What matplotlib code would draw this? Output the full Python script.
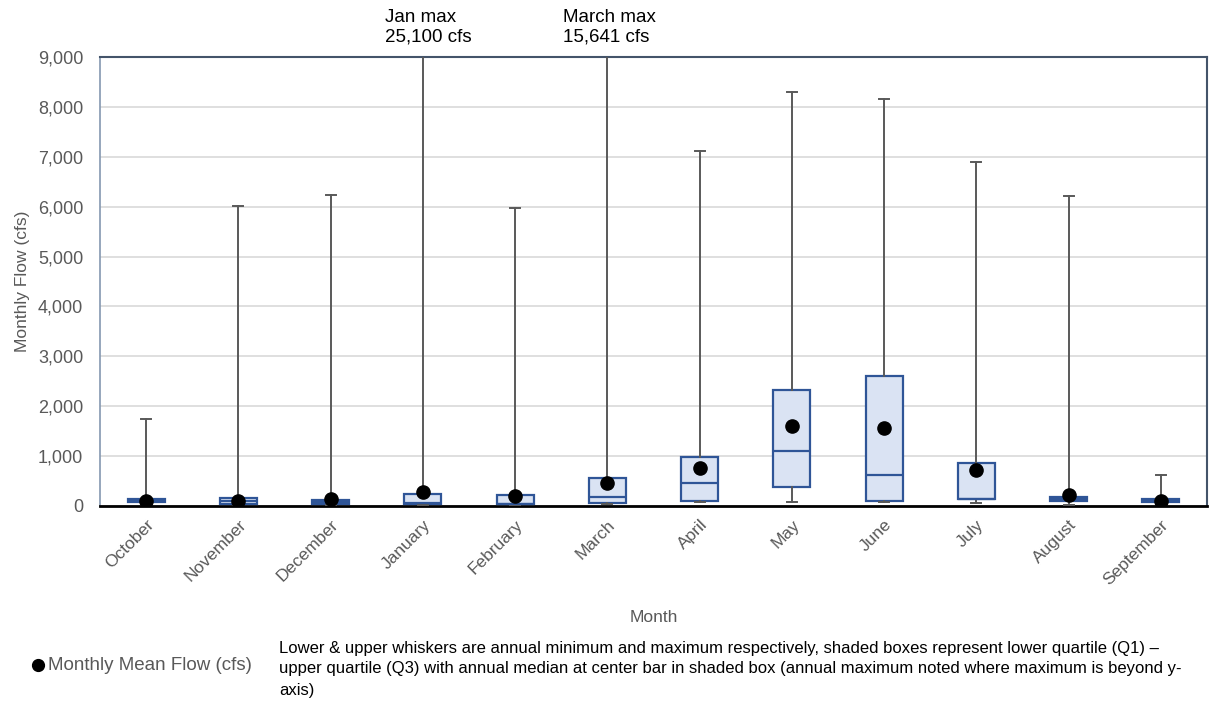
import matplotlib
matplotlib.use("Agg")
import matplotlib.pyplot as plt
from matplotlib.lines import Line2D
from matplotlib.transforms import offset_copy

plt.rcParams['font.family'] = ['Liberation Sans', 'DejaVu Sans']

months = ["October", "November", "December", "January", "February", "March",
          "April", "May", "June", "July", "August", "September"]
annual_min = [55, 20, 25, 15, 15, 45, 85, 90, 75, 60, 15, 50]
q1 = [75, 40, 35, 45, 40, 65, 107, 381, 107, 134, 110, 80]
median = [100, 95, 75, 55, 50, 186, 455, 1109, 621, 150, 150, 110]
q3 = [135, 155, 120, 235, 215, 555, 990, 2325, 2606, 862, 185, 140]
annual_max = [1750, 6020, 6240, 25100, 5980, 15641, 7120, 8300, 8160, 6900, 6220, 630]
mean_flow = [110, 105, 135, 280, 207, 455, 768, 1610, 1570, 728, 220, 107]
y_ticks = [0, 1000, 2000, 3000, 4000, 5000, 6000, 7000, 8000, 9000]

GRAY_TEXT = "#595959"
BOX_EDGE = "#2F5597"
BOX_FILL = "#DAE3F3"
WHISKER = "#595959"
FRAME = "#44546A"

fig = plt.figure(figsize=(12.11, 7.03), dpi=100)
ax = fig.add_axes([100 / 1211, 1 - 506 / 703, 1107 / 1211, 449 / 703])

stats = []
for i, m in enumerate(months):
    stats.append(dict(label=m, whislo=annual_min[i], q1=q1[i], med=median[i],
                      q3=q3[i], whishi=annual_max[i], fliers=[]))

positions = list(range(len(months)))
ax.bxp(stats, positions=positions, widths=0.4, capwidths=0.11,
       patch_artist=True, showfliers=False,
       boxprops=dict(facecolor=BOX_FILL, edgecolor=BOX_EDGE, linewidth=1.6),
       medianprops=dict(color=BOX_EDGE, linewidth=1.6),
       whiskerprops=dict(color=WHISKER, linewidth=1.4),
       capprops=dict(color=WHISKER, linewidth=1.4), zorder=3)

ax.plot(positions, mean_flow, linestyle="none", marker="o", markersize=9.5,
        color="black", zorder=5)

ax.set_xlim(-0.5, len(months) - 0.5)
ax.set_ylim(0, 9000)
ax.set_yticks(y_ticks)
ax.set_yticklabels([f"{v:,}" for v in y_ticks])
ax.set_xticks(positions)
ax.set_xticklabels(months, rotation=45, ha="right", rotation_mode="anchor")
ax.tick_params(axis="both", length=0, labelcolor=GRAY_TEXT)
ax.tick_params(axis="x", pad=8, labelsize=12.5)
ax.tick_params(axis="y", pad=12, labelsize=13)

ax.grid(axis="y", color="#D9D9D9", linewidth=1.2, zorder=0)
ax.set_axisbelow(True)

for side in ("top", "right"):
    ax.spines[side].set_color(FRAME)
    ax.spines[side].set_linewidth(1.5)
ax.spines["left"].set_color("#8497B0")
ax.spines["left"].set_linewidth(1.2)
ax.spines["bottom"].set_color("black")
ax.spines["bottom"].set_linewidth(2.0)

ax.set_xlabel("Month", fontsize=12.5, color=GRAY_TEXT, labelpad=16)
ax.set_ylabel("Monthly Flow (cfs)", fontsize=12.5, color=GRAY_TEXT, labelpad=6)

# Labels for maxima that run past the top of the y-axis
for idx, name, dx in ((3, "Jan max", -38), (5, "March max", -44)):
    trans = offset_copy(ax.transData, fig=fig, x=dx, y=11, units="dots")
    ax.text(idx, 9000, f"{name}\n{annual_max[idx]:,} cfs", transform=trans,
            ha="left", va="bottom", fontsize=13.5, color="black",
            linespacing=1.25, clip_on=False)

# Legend row below the chart
fig.add_artist(Line2D([38 / 1211], [1 - 665 / 703], marker="o", markersize=8.5,
                      color="black", linestyle="none", transform=fig.transFigure))
fig.text(48 / 1211, 1 - 665 / 703, "Monthly Mean Flow (cfs)", fontsize=13.5,
         color=GRAY_TEXT, ha="left", va="center")
fig.text(279 / 1211, 1 - 669 / 703,
         "Lower & upper whiskers are annual minimum and maximum respectively, shaded boxes represent lower quartile (Q1) \u2013\n"
         "upper quartile (Q3) with annual median at center bar in shaded box (annual maximum noted where maximum is beyond y-\n"
         "axis)",
         fontsize=12.0, color="black", ha="left", va="center", linespacing=1.5)

fig.savefig("out.png", dpi=100)
